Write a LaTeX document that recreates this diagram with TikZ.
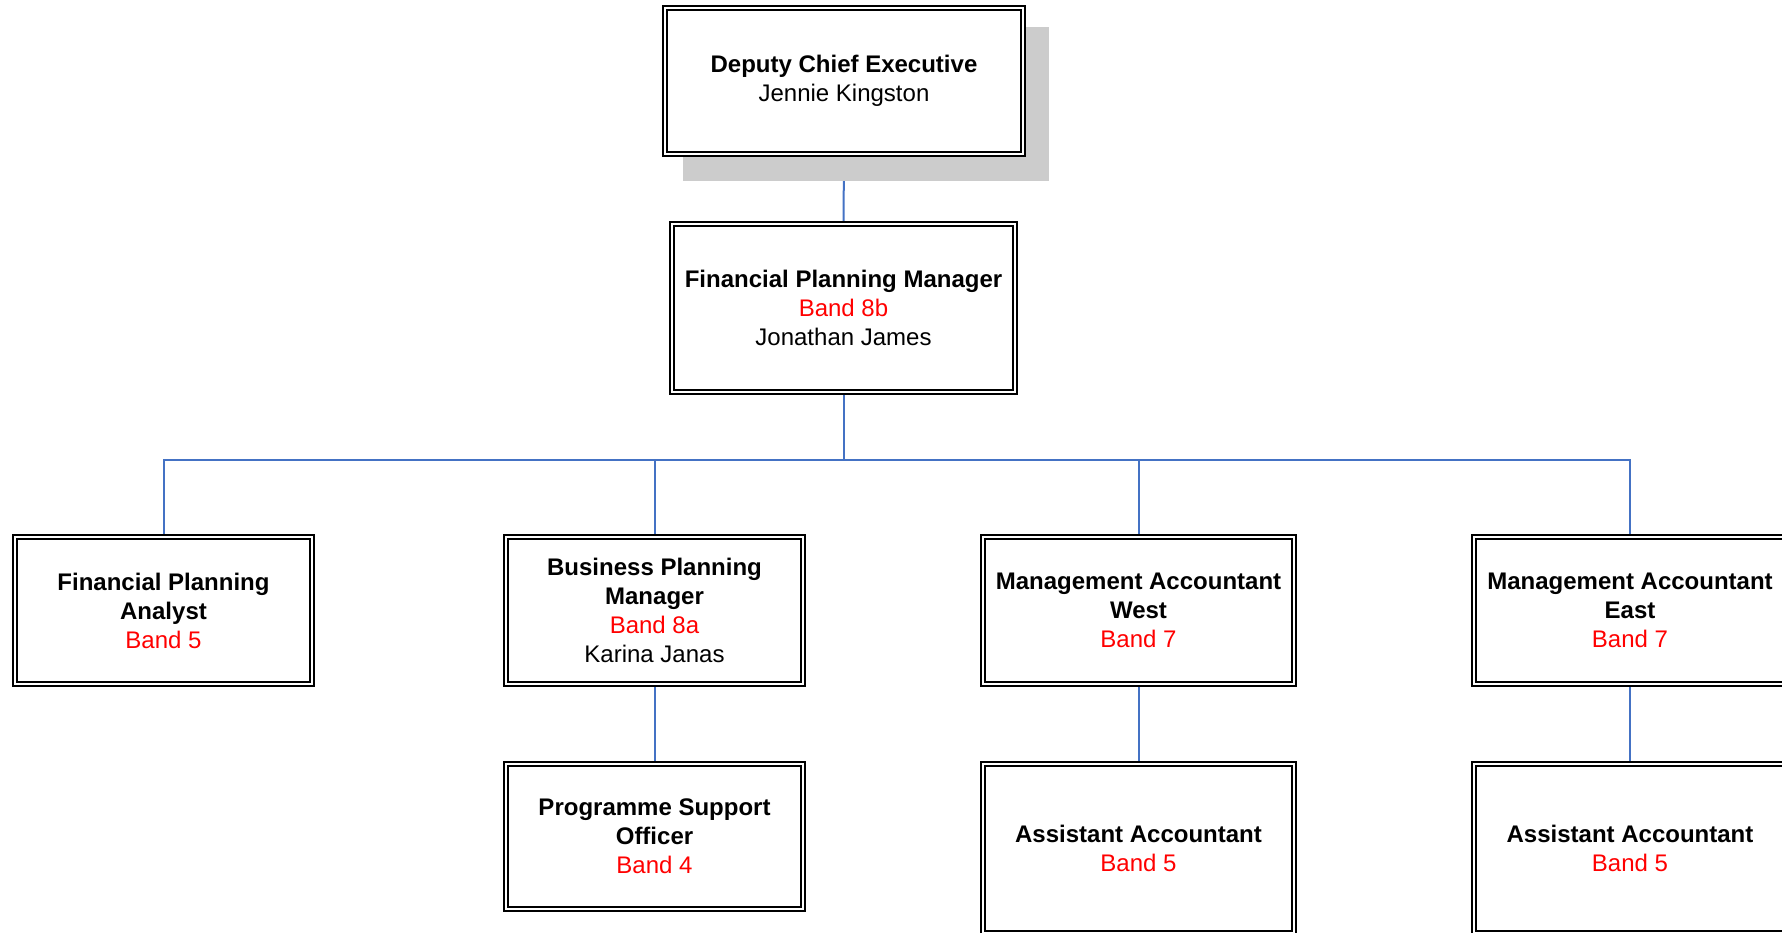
\documentclass[tikz,border=0pt]{standalone}
\usepackage{fontspec}
\setmainfont{Liberation Sans}
\usetikzlibrary{backgrounds}
\definecolor{conn}{RGB}{68,114,196}
\definecolor{shadowgray}{RGB}{204,204,204}
\definecolor{bandred}{RGB}{255,0,0}
\newcommand{\bnd}[1]{\textcolor{bandred}{#1}}
\tikzset{
  orgbox/.style={draw=black, fill=white, line width=2pt, double=white, double distance=2.5pt,
    rectangle, inner sep=0pt, outer sep=0pt, align=center,
    font=\fontsize{24}{29}\selectfont},
  link/.style={draw=conn, line width=2pt},
}
\begin{document}
\begin{tikzpicture}[x=1pt,y=-1pt]
\useasboundingbox (0,0) rectangle (1782,932);
% shadow of top box
\fill[shadowgray] (683,27) rectangle (1049,181);
\node[orgbox, minimum width=358pt, minimum height=146pt] (dce) at (844,81)
  {\textbf{Deputy Chief Executive}\\Jennie Kingston};
\node[orgbox, minimum width=343pt, minimum height=168pt] (fpm) at (843.5,308)
  {\textbf{Financial Planning Manager}\\\bnd{Band 8b}\\Jonathan James};
\node[orgbox, minimum width=297pt, minimum height=147pt] (fpa) at (163.5,610.5)
  {\textbf{Financial Planning}\\\textbf{Analyst}\\\bnd{Band 5}};
\node[orgbox, minimum width=297pt, minimum height=147pt] (bpm) at (654.5,610.5)
  {\textbf{Business Planning}\\\textbf{Manager}\\\bnd{Band 8a}\\Karina Janas};
\node[orgbox, minimum width=311pt, minimum height=147pt] (maw) at (1138.5,610.5)
  {\textbf{Management Accountant}\\\textbf{West}\\\bnd{Band 7}};
\node[orgbox, minimum width=312pt, minimum height=147pt] (mae) at (1630,610.5)
  {\textbf{Management Accountant}\\\textbf{East}\\\bnd{Band 7}};
\node[orgbox, minimum width=297pt, minimum height=145pt] (pso) at (654.5,836.5)
  {\textbf{Programme Support}\\\textbf{Officer}\\\bnd{Band 4}};
\node[orgbox, minimum width=311pt, minimum height=169pt] (aaw) at (1138.5,848.5)
  {\textbf{Assistant Accountant}\\\bnd{Band 5}};
\node[orgbox, minimum width=312pt, minimum height=169pt] (aae) at (1630,848.5)
  {\textbf{Assistant Accountant}\\\bnd{Band 5}};
\coordinate (bus) at (843.5,460);
\begin{scope}[on background layer]
  \draw[link] (dce.south) -- (fpm.north);
  \draw[link] (fpm.south) -- (bus);
  \draw[link] (bus) -| (fpa.north);
  \draw[link] (bus) -| (bpm.north);
  \draw[link] (bus) -| (maw.north);
  \draw[link] (bus) -| (mae.north);
  \draw[link] (bpm.south) -- (pso.north);
  \draw[link] (maw.south) -- (aaw.north);
  \draw[link] (mae.south) -- (aae.north);
\end{scope}
\end{tikzpicture}
\end{document}
